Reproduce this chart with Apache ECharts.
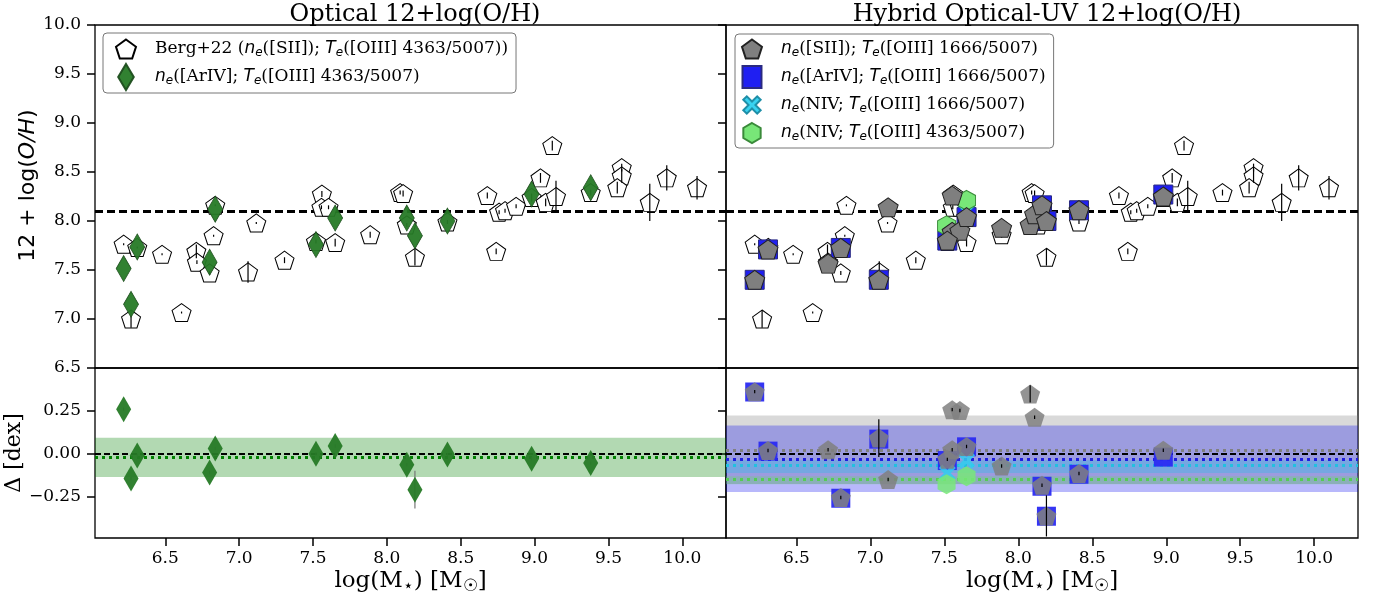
<!DOCTYPE html>
<html><head><meta charset="utf-8">
<script src="https://cdn.jsdelivr.net/npm/echarts@6/dist/echarts.min.js"></script>
<style>html,body{margin:0;padding:0;background:#fff}#c{width:1374px;height:603px}</style>
</head><body><div id="c"></div>
<script>
// ---------------- data ----------------
const xTicks = [6.5, 7.0, 7.5, 8.0, 8.5, 9.0, 9.5, 10.0];
const yTicksTop = [6.5, 7.0, 7.5, 8.0, 8.5, 9.0, 9.5, 10.0];
const yTicksDelta = [-0.25, 0.0, 0.25];
const refLine = 8.1;

// Berg+22 (ne([SII]); Te([OIII] 4363/5007))
const bergX = [6.218,6.31,6.268,6.478,6.61,6.71,6.714,6.80,6.827,6.838,7.06,7.116,7.307,7.56,7.557,7.605,7.52,7.65,7.887,8.09,8.11,8.135,8.19,8.41,8.68,8.74,8.76,8.80,8.875,8.98,9.04,9.075,9.145,9.12,9.38,9.59,9.59,9.56,9.78,9.895,10.10];
const bergY = [7.763,7.73,7.00,7.66,7.066,7.69,7.58,7.47,7.85,8.16,7.48,7.98,7.60,8.275,8.14,8.14,7.79,7.78,7.86,8.29,8.28,7.96,7.63,7.99,8.26,7.69,8.09,8.105,8.15,8.24,8.44,8.19,8.25,8.77,8.29,8.545,8.46,8.34,8.19,8.44,8.34];
const bergErr = [0.01,0.01,0.09,0.01,0.01,0.07,0.02,0.02,0.01,0.01,0.11,0.01,0.03,0.03,0.02,0.02,0.02,0.04,0.03,0.02,0.03,0.02,0.085,0.02,0.03,0.03,0.02,0.02,0.02,0.04,0.05,0.04,0.16,0.05,0.03,0.04,0.07,0.06,0.19,0.13,0.12];

// ne([ArIV]); Te([OIII] 4363/5007)
const arivX = [6.218,6.268,6.31,6.80,6.838,7.52,7.65,8.135,8.19,8.41,8.98,9.38];
const arivY = [7.515,7.15,7.735,7.58,8.12,7.76,8.03,8.03,7.85,8.0,8.275,8.34];
const arivDelta = [0.26,-0.145,-0.01,-0.11,0.03,0.0,0.045,-0.065,-0.21,-0.005,-0.03,-0.055];
const arivDeltaErr = [0.01,0.01,0.01,0.01,0.01,0.01,0.01,0.01,0.11,0.01,0.01,0.01];
const opticalBand = [-0.136, -0.023, 0.093]; // low, mean, high

// ne([SII]); Te([OIII] 1666/5007)
const siiX = [6.218,6.308,6.714,6.80,7.057,7.12,7.553,7.553,7.605,7.52,7.65,7.887,8.08,8.11,8.16,8.19,8.41,8.98];
const siiY = [7.40,7.71,7.565,7.725,7.40,8.14,8.26,7.89,7.90,7.80,8.04,7.93,7.96,8.07,8.16,8.0,8.11,8.25];
const siiDelta = [0.362,0.019,0.023,-0.256,0.091,-0.151,0.023,0.257,0.252,-0.033,0.042,-0.072,0.349,0.213,-0.184,-0.363,-0.116,0.02];
const siiDeltaErr = [0.01,0.01,0.01,0.01,0.11,0.01,0.01,0.01,0.01,0.01,0.01,0.01,0.05,0.01,0.01,0.12,0.01,0.01];
const siiBand = [-0.177, 0.023, 0.223];

// ne([ArIV]); Te([OIII] 1666/5007)
const arivUvX = [6.218,6.308,6.80,7.057,7.52,7.65,8.16,8.19,8.41,8.98];
const arivUvY = [7.40,7.71,7.725,7.40,7.80,8.04,8.16,8.0,8.11,8.27];
const arivUvDelta = [0.36,0.015,-0.26,0.085,-0.04,0.04,-0.19,-0.365,-0.12,-0.02];
const arivUvBand = [-0.223, -0.029, 0.165];

// ne(NIV); Te([OIII] 1666/5007)
const nivUvX = [7.52,7.65];
const nivUvY = [7.87,8.10];
const nivUvDelta = [-0.113,-0.039];
const nivUvBand = [-0.113, -0.074, -0.039];

// ne(NIV); Te([OIII] 4363/5007)
const nivOptX = [7.515,7.65];
const nivOptY = [7.95,8.21];
const nivOptDelta = [-0.178,-0.132];
const nivOptBand = [-0.178, -0.155, -0.132];

// ---------------- styling ----------------
const X_MIN = 6.024, X_MAX = 10.296;
const SERIF = 'DejaVu Serif', SANS = 'DejaVu Sans';
const PENT = 'path://M0,-1L0.951,-0.309L0.588,0.809L-0.588,0.809L-0.951,-0.309Z';
const DIAM = 'path://M0,-1L0.6,0L0,1L-0.6,0Z';
const HEX = 'path://M0,-1L0.866,-0.5L0.866,0.5L0,1L-0.866,0.5L-0.866,-0.5Z';
const XSYM = 'path://M-1,-0.6L-0.6,-1L0,-0.4L0.6,-1L1,-0.6L0.4,0L1,0.6L0.6,1L0,0.4L-0.6,1L-1,0.6L-0.4,0Z';
// legend icons (padded with move-to points so that they keep a matplotlib-like size)
const L_PENT = 'path://M0,-1.333M0,1.142M0,-1L0.951,-0.309L0.588,0.809L-0.588,0.809L-0.951,-0.309Z';
const L_DIAM = DIAM;
const L_RECT = 'path://M0,-1M0,1M-0.73,-0.85L0.73,-0.85L0.73,0.85L-0.73,0.85Z';
const L_X = 'path://M0,-1.5M0,1.5M-1,-0.6L-0.6,-1L0,-0.4L0.6,-1L1,-0.6L0.4,0L1,0.6L0.6,1L0,0.4L-0.6,1L-1,0.6L-0.4,0Z';
const L_HEX = 'path://M0,-1.3M0,1.3M0,-1L0.866,-0.5L0.866,0.5L0,1L-0.866,0.5L-0.866,-0.5Z';

const pts = (xs, ys) => xs.map((x, i) => [x, ys[i]]);
const errs = (xs, ys, es) => xs.map((x, i) => [x, ys[i], es[i]]);

function gridCfg(left, top, width, height) {
  return {left, top, width, height, show: true, borderColor: '#000', borderWidth: 1.3, backgroundColor: 'transparent'};
}
function xAxisCfg(gi, bottom) {
  return {
    type: 'value', gridIndex: gi, min: X_MIN, max: X_MAX,
    axisLine: {show: false, onZero: false}, splitLine: {show: false},
    axisTick: {show: bottom, customValues: xTicks, length: 8, lineStyle: {color: '#000', width: 1.5}},
    axisLabel: {show: bottom, customValues: xTicks, formatter: v => v.toFixed(1), fontFamily: SERIF, fontSize: 17, color: '#000', margin: 12},
    name: bottom ? 'log(M{s|⋆}) [M{s|☉}]' : '',
    nameLocation: 'middle', nameGap: 29,
    nameTextStyle: {fontFamily: SERIF, fontSize: 23, color: '#000',
      rich: {s: {fontFamily: SERIF, fontSize: 17, color: '#000', padding: [10, 0, 0, 0], lineHeight: 17}}}
  };
}
function yAxisCfg(gi, top, showLabels) {
  const ticks = top ? yTicksTop : yTicksDelta;
  const fmt = top ? (v => v.toFixed(1)) : (v => (v < 0 ? '\u2212' : '') + Math.abs(v).toFixed(2));
  const cfg = {
    type: 'value', gridIndex: gi,
    min: top ? 6.5 : -0.492, max: top ? 10.0 : 0.5,
    axisLine: {show: false, onZero: false}, splitLine: {show: false},
    axisTick: {show: true, customValues: ticks, length: 8, lineStyle: {color: '#000', width: 1.5}},
    axisLabel: {show: showLabels, customValues: ticks, formatter: fmt, fontFamily: SERIF, fontSize: 17, color: '#000', margin: 14}
  };
  if (showLabels) {
    cfg.nameLocation = 'middle';
    cfg.nameRotate = 90;
    if (top) {
      cfg.name = '12 + log({i|O/H})';
      cfg.nameGap = 56;
      cfg.nameTextStyle = {fontFamily: SANS, fontSize: 22, color: '#000', padding: [0, 0, 0, 22],
        rich: {i: {fontFamily: SANS, fontStyle: 'italic', fontSize: 22, color: '#000'}}};
    } else {
      cfg.name = '\u0394 [dex]';
      cfg.nameGap = 56;
      cfg.nameTextStyle = {fontFamily: SERIF, fontSize: 22, color: '#000'};
    }
  }
  return cfg;
}
function errSeries(xi, yi, data, color, z) {
  return {
    type: 'custom', xAxisIndex: xi, yAxisIndex: yi, data, encode: {x: 0, y: 1}, silent: true, z,
    renderItem: (p, api) => {
      const x = api.value(0), y = api.value(1), e = api.value(2);
      const a = api.coord([x, y - e]), b = api.coord([x, y + e]);
      return {type: 'line', shape: {x1: a[0], y1: a[1], x2: b[0], y2: b[1]}, style: {stroke: color, lineWidth: 1.2}};
    }
  };
}
function hLine(y, color, type, width) {
  return {yAxis: y, lineStyle: {color, type, width}};
}
function bandSeries(xi, yi, areas, lines) {
  return {
    type: 'line', xAxisIndex: xi, yAxisIndex: yi, data: [], silent: true, z: 1,
    markArea: {silent: true, z: 1, data: areas.map(a => [{yAxis: a[0], itemStyle: {color: a[2]}}, {yAxis: a[1]}])},
    markLine: {silent: true, symbol: 'none', z: 2, label: {show: false}, data: lines}
  };
}
function scatter(name, xi, yi, data, symbol, size, itemStyle, z) {
  return {type: 'scatter', name, xAxisIndex: xi, yAxisIndex: yi, data, symbol, symbolSize: size, itemStyle, z, silent: true};
}

const styleBerg = {color: '#ffffff', borderColor: '#000', borderWidth: 1, opacity: 1};
const styleAriv = {color: '#267a26', borderColor: '#1d4d1d', borderWidth: 0.8, opacity: 0.95};
const styleSii = {color: '#7f7f7f', borderColor: '#222', borderWidth: 1, opacity: 1};
const styleArivUv = {color: '#1f1ff2', borderColor: '#2a2a80', borderWidth: 1, opacity: 1};
const styleNivUv = {color: '#38d2f0', borderColor: '#1f8fa8', borderWidth: 1, opacity: 1};
const styleNivOpt = {color: '#78e678', borderColor: '#3a8a3a', borderWidth: 1, opacity: 1};

const legendRich = {
  g: {width: 12},
  r: {fontFamily: SERIF, fontSize: 17, color: '#000', lineHeight: 20},
  i: {fontFamily: SANS, fontStyle: 'italic', fontSize: 17, color: '#000', lineHeight: 20},
  s: {fontFamily: SANS, fontStyle: 'italic', fontSize: 12, color: '#000', lineHeight: 12, padding: [8, 0, 0, 0]}
};
const NE = '{i|n}{s|e}', TE = '{i|T}{s|e}';
const legendLabels = {
  'Berg+22': '{g|}{r|Berg+22 (}' + NE + '{r|([SII]); }' + TE + '{r|([OIII] 4363/5007))}',
  'ArIV optical': '{g|}' + NE + '{r|([ArIV]; }' + TE + '{r|([OIII] 4363/5007)}',
  'SII UV': '{g|}' + NE + '{r|([SII]); }' + TE + '{r|([OIII] 1666/5007)}',
  'ArIV UV': '{g|}' + NE + '{r|([ArIV]; }' + TE + '{r|([OIII] 1666/5007)}',
  'NIV UV': '{g|}' + NE + '{r|(NIV; }' + TE + '{r|([OIII] 1666/5007)}',
  'NIV optical': '{g|}' + NE + '{r|(NIV; }' + TE + '{r|([OIII] 4363/5007)}'
};

const option = {
  animation: false,
  backgroundColor: '#fff',
  title: [
    {text: 'Optical 12+log(O/H)', left: 410, top: -2, textAlign: 'center', textStyle: {fontFamily: SERIF, fontSize: 24, fontWeight: 'normal', color: '#000'}},
    {text: 'Hybrid Optical-UV 12+log(O/H)', left: 1042, top: -2, textAlign: 'center', textStyle: {fontFamily: SERIF, fontSize: 24, fontWeight: 'normal', color: '#000'}}
  ],
  legend: [
    {orient: 'vertical', left: 103, top: 33, padding: [2, 8, 2, 12], itemGap: 0, itemWidth: 24, itemHeight: 26,
     borderColor: '#777', borderWidth: 1, borderRadius: 4, backgroundColor: '#fff', selectedMode: false,
     data: [{name: 'Berg+22', icon: L_PENT}, {name: 'ArIV optical', icon: L_DIAM}],
     formatter: n => legendLabels[n], textStyle: {rich: legendRich}},
    {orient: 'vertical', left: 735, top: 34, padding: [1, 8, 1, 6], itemGap: 0, itemWidth: 24, itemHeight: 26,
     borderColor: '#777', borderWidth: 1, borderRadius: 4, backgroundColor: '#fff', selectedMode: false,
     data: [{name: 'SII UV', icon: L_PENT}, {name: 'ArIV UV', icon: L_RECT}, {name: 'NIV UV', icon: L_X}, {name: 'NIV optical', icon: L_HEX}],
     formatter: n => legendLabels[n], textStyle: {rich: legendRich}}
  ],
  grid: [gridCfg(95, 25, 631, 343), gridCfg(95, 368, 631, 170), gridCfg(726, 25, 632, 343), gridCfg(726, 368, 632, 170)],
  xAxis: [xAxisCfg(0, false), xAxisCfg(1, true), xAxisCfg(2, false), xAxisCfg(3, true)],
  yAxis: [yAxisCfg(0, true, true), yAxisCfg(1, false, true), yAxisCfg(2, true, false), yAxisCfg(3, false, false)],
  series: [
    // top left
    bandSeries(0, 0, [], [hLine(refLine, '#000', [8, 4], 3)]),
    scatter('Berg+22', 0, 0, pts(bergX, bergY), PENT, [19, 18], styleBerg, 3),
    errSeries(0, 0, errs(bergX, bergY, bergErr), '#000', 4),
    scatter('ArIV optical', 0, 0, pts(arivX, arivY), DIAM, [15, 26], styleAriv, 5),
    // bottom left
    bandSeries(1, 1, [[opticalBand[0], opticalBand[2], 'rgba(0,128,0,0.3)']],
      [hLine(0, '#000', [6, 3], 1.8), hLine(opticalBand[1], '#008000', [3, 4], 3)]),
    errSeries(1, 1, errs(arivX, arivDelta, arivDeltaErr), '#777', 4),
    scatter('ArIV optical d', 1, 1, pts(arivX, arivDelta), DIAM, [15, 26], {color: '#267a26', opacity: 0.95}, 5),
    // top right
    bandSeries(2, 2, [], [hLine(refLine, '#000', [8, 4], 3)]),
    scatter('Berg+22 r', 2, 2, pts(bergX, bergY), PENT, [19, 18], styleBerg, 3),
    errSeries(2, 2, errs(bergX, bergY, bergErr), '#000', 4),
    scatter('ArIV UV', 2, 2, pts(arivUvX, arivUvY), 'rect', [19, 19], styleArivUv, 5),
    scatter('NIV UV', 2, 2, pts(nivUvX, nivUvY), XSYM, [17, 17], styleNivUv, 5),
    scatter('NIV optical', 2, 2, pts(nivOptX, nivOptY), HEX, [18, 20], styleNivOpt, 5),
    scatter('SII UV', 2, 2, pts(siiX, siiY), PENT, [20, 19], styleSii, 6),
    // bottom right
    bandSeries(3, 3, [
        [siiBand[0], siiBand[2], 'rgba(128,128,128,0.3)'],
        [arivUvBand[0], arivUvBand[2], 'rgba(0,0,240,0.28)'],
        [nivUvBand[0], nivUvBand[2], 'rgba(0,200,230,0.25)'],
        [nivOptBand[0], nivOptBand[2], 'rgba(100,220,100,0.3)']
      ],
      [hLine(siiBand[1], '#808080', [3, 4], 3), hLine(0, '#000', [6, 3], 1.8),
       hLine(arivUvBand[1], '#1f1fe0', [3, 4], 3), hLine(nivUvBand[1], '#22c0e0', [3, 4], 3),
       hLine(nivOptBand[1], '#55cc55', [3, 4], 3)]),
    scatter('ArIV UV d', 3, 3, pts(arivUvX, arivUvDelta), 'rect', [19, 19], {color: '#2a2af2', opacity: 0.95}, 5),
    scatter('NIV UV d', 3, 3, pts(nivUvX, nivUvDelta), XSYM, [17, 17], {color: '#33ccee', opacity: 0.85}, 5),
    scatter('NIV optical d', 3, 3, pts(nivOptX, nivOptDelta), HEX, [18, 20], {color: '#78e878', opacity: 0.85}, 5),
    scatter('SII UV d', 3, 3, pts(siiX, siiDelta), PENT, [20, 19], {color: '#808080', opacity: 0.85}, 6),
    errSeries(3, 3, errs(siiX, siiDelta, siiDeltaErr), '#000', 7)
  ]
};
const chart = echarts.init(document.getElementById('c'));
chart.setOption(option);
</script>
</body></html>
